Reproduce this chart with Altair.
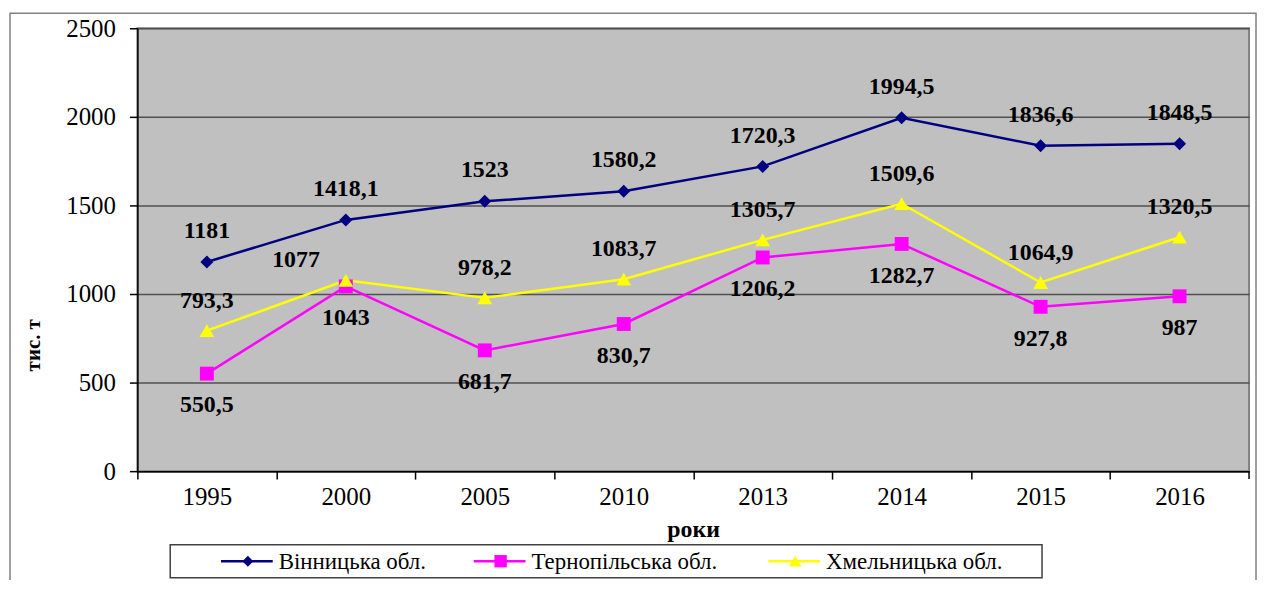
import altair as alt
import pandas as pd

years = ["1995", "2000", "2005", "2010", "2013", "2014", "2015", "2016"]
series = ["Вінницька обл.", "Тернопільська обл.", "Хмельницька обл."]
vin = [1181, 1418.1, 1523, 1580.2, 1720.3, 1994.5, 1836.6, 1848.5]
ter = [550.5, 1043, 681.7, 830.7, 1206.2, 1282.7, 927.8, 987]
khm = [793.3, 1077, 978.2, 1083.7, 1305.7, 1509.6, 1064.9, 1320.5]
colors = ["#000080", "#FF00FF", "#FFFF00"]
shapes = ["diamond", "square", "triangle-up"]
sizes = [170, 220, 220]
y_ticks = [0, 500, 1000, 1500, 2000, 2500]

rows = []
for s, vals in zip(series, [vin, ter, khm]):
    for yr, v in zip(years, vals):
        rows.append({"year": yr, "series": s, "value": v,
                     "label": f"{v:g}".replace(".", ",")})
df = pd.DataFrame(rows)

FONT = "Liberation Serif"
W, H = 1117, 445
step = W / len(years)

x_enc = alt.X("year:O", sort=years,
              scale=alt.Scale(type="point", padding=0.5),
              axis=alt.Axis(title="роки", labelAngle=0, labelFont=FONT, labelFontSize=25,
                            labelColor="black", labelPadding=6,
                            tickOffset=-step / 2, labelOffset=step / 2,
                            tickSize=8, tickColor="black", tickWidth=1.5,
                            domainColor="black", domainWidth=1.5,
                            titleFont=FONT, titleFontSize=24, titleFontWeight="bold",
                            titleColor="black", titleY=66, titleBaseline="alphabetic"))
y_enc = alt.Y("value:Q", scale=alt.Scale(domain=[0, 2500], nice=False),
              axis=alt.Axis(values=y_ticks, format="d", title="тис. т", labelFont=FONT,
                            labelFontSize=25, labelColor="black", labelPadding=14,
                            tickSize=8, tickColor="black", tickWidth=1.5,
                            domainColor="black", domainWidth=1.5,
                            grid=True, gridColor="#505050", gridWidth=1.5,
                            titleFont=FONT, titleFontSize=21, titleFontWeight="bold",
                            titleColor="black", titleAngle=270, titleX=-98, titleY=318,
                            titleAlign="center", titleBaseline="alphabetic"))

color = alt.Color("series:N", scale=alt.Scale(domain=series, range=colors), legend=None)
shape = alt.Shape("series:N", scale=alt.Scale(domain=series, range=shapes), legend=None)
size = alt.Size("series:N", scale=alt.Scale(domain=series, range=sizes), legend=None)

base = alt.Chart(df)
lines = base.mark_line(strokeWidth=2.5).encode(x=x_enc, y=y_enc, color=color)
points = base.mark_point(filled=True, opacity=1).encode(x=x_enc, y=y_enc, color=color,
                                                         shape=shape, size=size)


def labels(sname, dy, dx=0, extra=None):
    flt = alt.datum.series == sname
    if extra is not None:
        flt = flt & extra
    return base.transform_filter(flt).mark_text(
        font=FONT, fontSize=24, fontWeight="bold", color="black",
        dy=dy, dx=dx, baseline="middle").encode(
        x=alt.X("year:O", sort=years), y="value:Q", text="label:N")


lab_v = labels(series[0], -31)
lab_t = labels(series[1], 32)
lab_k = labels(series[2], -30, extra=(alt.datum.year != "2000"))
lab_k2 = labels(series[2], -20, dx=-50, extra=(alt.datum.year == "2000"))

one = pd.DataFrame({"series": series})

end_tick = alt.Chart(one.head(1)).mark_rule(color="black", strokeWidth=1.5).encode(
    x=alt.value(W), y=alt.value(H), y2=alt.value(H + 8))

frame = alt.Chart(one.head(1)).mark_rect(fill=None, stroke="#808080", strokeWidth=1.5).encode(
    x=alt.value(-128), x2=alt.value(1124), y=alt.value(-15), y2=alt.value(700))

legend_box = alt.Chart(one.head(1)).mark_rect(fill="white", stroke="#404040", strokeWidth=1.5).encode(
    x=alt.value(33), x2=alt.value(909), y=alt.value(519), y2=alt.value(552))

LEG_Y = 535.5
leg_layers = []
for i, (s, lx) in enumerate(zip(series, [84, 338, 634])):
    d = alt.Chart(one.iloc[[i]])
    leg_layers.append(d.mark_rule(color=colors[i], strokeWidth=2.5).encode(
        x=alt.value(lx), x2=alt.value(lx + 52), y=alt.value(LEG_Y)))
    leg_layers.append(d.mark_point(filled=True, opacity=1, color=colors[i], shape=shapes[i],
                                   size=sizes[i] * 0.7).encode(
        x=alt.value(lx + 27), y=alt.value(LEG_Y)))
    leg_layers.append(d.mark_text(font=FONT, fontSize=23, color="black", align="left",
                                  baseline="middle").encode(
        x=alt.value(lx + 58), y=alt.value(LEG_Y + 1), text="series:N"))

chart = alt.layer(frame, lines, points, lab_v, lab_t, lab_k, lab_k2, end_tick,
                  legend_box, *leg_layers).properties(
    width=W, height=H,
    padding={"left": 130, "top": 19, "right": 8, "bottom": 108},
    autosize=alt.AutoSizeParams(type="none"),
    background="white",
).configure_view(fill="#C0C0C0", stroke="#808080", strokeWidth=2)

chart.save("out.html", embed_options={"renderer": "svg", "actions": False})
